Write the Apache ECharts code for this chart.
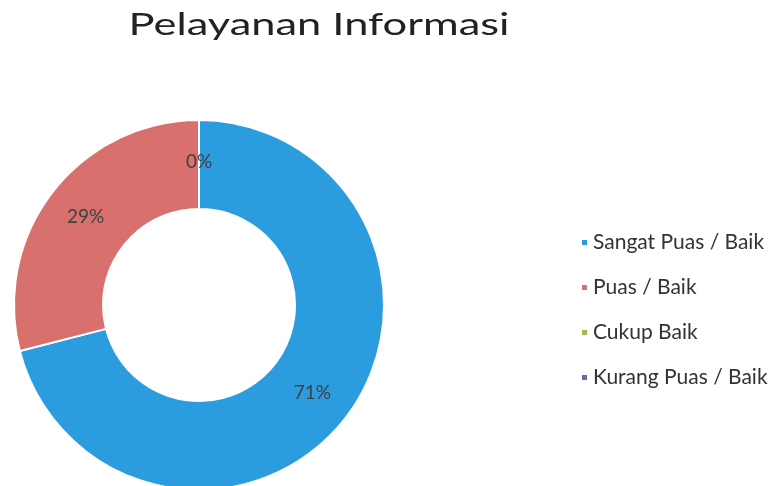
<!DOCTYPE html>
<html>
<head>
<meta charset="utf-8">
<title>Pelayanan Informasi</title>
<script src="https://cdn.jsdelivr.net/npm/echarts@6/dist/echarts.min.js"></script>
<style>
  html, body { margin: 0; padding: 0; background: #fff; }
  #chart { width: 775px; height: 486px; }
</style>
</head>
<body>
<div id="chart"></div>
<script>
  // kategori dan nilai (persen)
  const titleText = 'Pelayanan Informasi';
  const categories = ['Sangat Puas / Baik', 'Puas / Baik', 'Cukup Baik', 'Kurang Puas / Baik'];
  const values = [71, 29, 0, 0];
  const colorList = ['#2b9cdd', '#d8716d', '#9bbb59', '#8064a2'];

  const chart = echarts.init(document.getElementById('chart'));

  let pieData = [];
  for (let i = 0; i < categories.length; i++) {
    pieData.push({
      name: categories[i],
      value: values[i],
      itemStyle: { color: colorList[i] }
    });
  }

  chart.setOption({
    animation: false,
    // judul dibuat lebar seperti gambar aslinya
    graphic: [{
      type: 'text',
      x: 319,
      y: 25,
      scaleX: 1.4,
      style: {
        text: titleText,
        font: '31px Lato',
        fill: '#222',
        align: 'center',
        verticalAlign: 'middle'
      }
    }],
    legend: {
      orient: 'vertical',
      left: 575,
      top: 227,
      itemWidth: 7,
      itemHeight: 7,
      itemGap: 24,
      icon: 'rect',
      textStyle: {
        fontFamily: 'Lato',
        fontSize: 21,
        color: '#333'
      },
      data: categories
    },
    series: [{
      type: 'pie',
      center: [199, 305],
      radius: [96, 185],
      startAngle: 90,
      clockwise: true,
      avoidLabelOverlap: false,
      itemStyle: {
        borderColor: '#fff',
        borderWidth: 2
      },
      label: {
        show: true,
        position: 'inside',
        formatter: '{d}%',
        fontFamily: 'Lato',
        fontSize: 19,
        color: '#404040'
      },
      labelLine: { show: false },
      data: pieData
    }]
  });
</script>
</body>
</html>
